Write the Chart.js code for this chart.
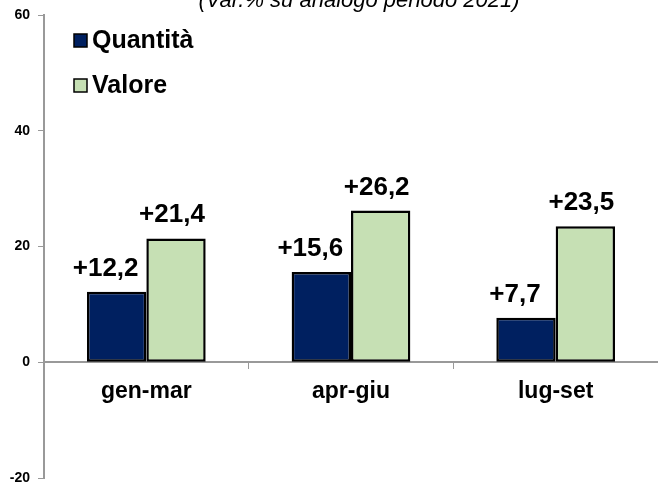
<!DOCTYPE html>
<html>
<head>
<meta charset="utf-8">
<script src="https://cdn.jsdelivr.net/npm/chart.js@4"></script>
<style>
    body { margin: 0; background: #fff; }
    #wrap { width: 658px; height: 482px; }
</style>
</head>
<body>
<div id="wrap"><canvas id="barChart"></canvas></div>
<script>
const periods = ["gen-mar", "apr-giu", "lug-set"];
const quantita = [12.2, 15.6, 7.7];
const valore = [21.4, 26.2, 23.5];
const yTicks = [-20, 0, 20, 40, 60];
const seriesNames = ["Quantità", "Valore"];
const subtitle = "(Var.% su analogo periodo 2021)";

const FONT = "'Liberation Sans', Arial, sans-serif";
const colors = ["#002060", "#c6e0b4"];

const fmt = v => "+" + v.toFixed(1).replace(".", ",");

/* title, legend and value labels drawn on the canvas */
const extras = {
    id: "extras",
    afterDatasetsDraw(chart) {
        const ctx = chart.ctx;
        ctx.save();

        // subtitle, cut off at the top like the original
        ctx.font = "italic 22px " + FONT;
        ctx.fillStyle = "#000";
        ctx.textAlign = "center";
        ctx.textBaseline = "alphabetic";
        ctx.fillText(subtitle, 359, 7);

        // legend in the top-left of the plot
        ctx.textAlign = "left";
        ctx.textBaseline = "middle";
        ctx.font = "bold 25px " + FONT;
        seriesNames.forEach((name, i) => {
            const y = 40 + i * 45;
            ctx.fillStyle = colors[i];
            ctx.fillRect(74, y - 6, 13, 13);
            ctx.lineWidth = 1.5;
            ctx.strokeStyle = "#000";
            ctx.strokeRect(74, y - 6, 13, 13);
            ctx.fillStyle = "#000";
            ctx.fillText(name, 92, y + 1);
        });

        // value labels above bars
        ctx.font = "bold 26px " + FONT;
        ctx.textAlign = "center";
        ctx.textBaseline = "alphabetic";
        const shift = [-11, -4];
        chart.data.datasets.forEach((ds, di) => {
            chart.getDatasetMeta(di).data.forEach((bar, i) => {
                ctx.fillText(fmt(ds.data[i]), bar.x + shift[di], bar.y - 16);
            });
        });
        ctx.restore();
    }
};

new Chart(document.getElementById("barChart"), {
    type: "bar",
    data: {
        labels: periods,
        datasets: [
            {
                label: seriesNames[0],
                data: quantita,
                backgroundColor: colors[0],
                borderColor: "#000",
                borderWidth: 2.5,
                borderSkipped: false
            },
            {
                label: seriesNames[1],
                data: valore,
                backgroundColor: colors[1],
                borderColor: "#000",
                borderWidth: 2.5,
                borderSkipped: false
            }
        ]
    },
    options: {
        responsive: true,
        maintainAspectRatio: false,
        animation: false,
        layout: { padding: { top: 15, bottom: 4, left: 0, right: 0 } },
        datasets: { bar: { barPercentage: 1, categoryPercentage: 0.58 } },
        plugins: {
            legend: { display: false },
            tooltip: { enabled: false }
        },
        scales: {
            x: {
                position: { y: 0 },
                grid: {
                    offset: true,
                    drawOnChartArea: false,
                    tickLength: 6,
                    color: "#999",
                    lineWidth: 1
                },
                border: { color: "#999", width: 2 },
                ticks: {
                    color: "#000",
                    padding: 10,
                    font: { family: FONT, size: 23, weight: "bold" }
                }
            },
            y: {
                min: -20,
                max: 60,
                afterBuildTicks(scale) {
                    scale.ticks = yTicks.map(v => ({ value: v }));
                },
                afterFit(scale) {
                    scale.width = 44;
                    scale.paddingTop = 0;
                    scale.paddingBottom = 0;
                },
                grid: {
                    drawOnChartArea: false,
                    tickLength: 6,
                    color: "#999"
                },
                border: { color: "#999", width: 2 },
                ticks: {
                    color: "#000",
                    padding: 8,
                    font: { family: FONT, size: 14, weight: "bold" }
                }
            }
        }
    },
    plugins: [extras]
});
</script>
</body>
</html>
